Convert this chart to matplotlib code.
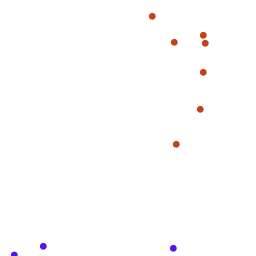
import matplotlib
matplotlib.use("Agg")
import matplotlib.pyplot as plt

# two groups of points (pixel-like data coords, y downward)
orange_x = [152.3, 203.3, 174.3, 205.3, 203.3, 200.3, 176.3]
orange_y = [16.3, 35.3, 42.3, 43.3, 72.3, 109.3, 144.3]
purple_x = [43.3, 14.3, 173.3]
purple_y = [246.3, 255.0, 248.3]

fig = plt.figure(figsize=(2.56, 2.56), dpi=100)
ax = fig.add_axes([0, 0, 1, 1])
ax.scatter(orange_x, orange_y, s=24, color="#c8401a", edgecolors="none")
ax.scatter(purple_x, purple_y, s=24, color="#5a14e8", edgecolors="none")
ax.set_xlim(0, 256)
ax.set_ylim(256, 0)
ax.axis("off")
fig.savefig("out.png", dpi=100, facecolor="white")
